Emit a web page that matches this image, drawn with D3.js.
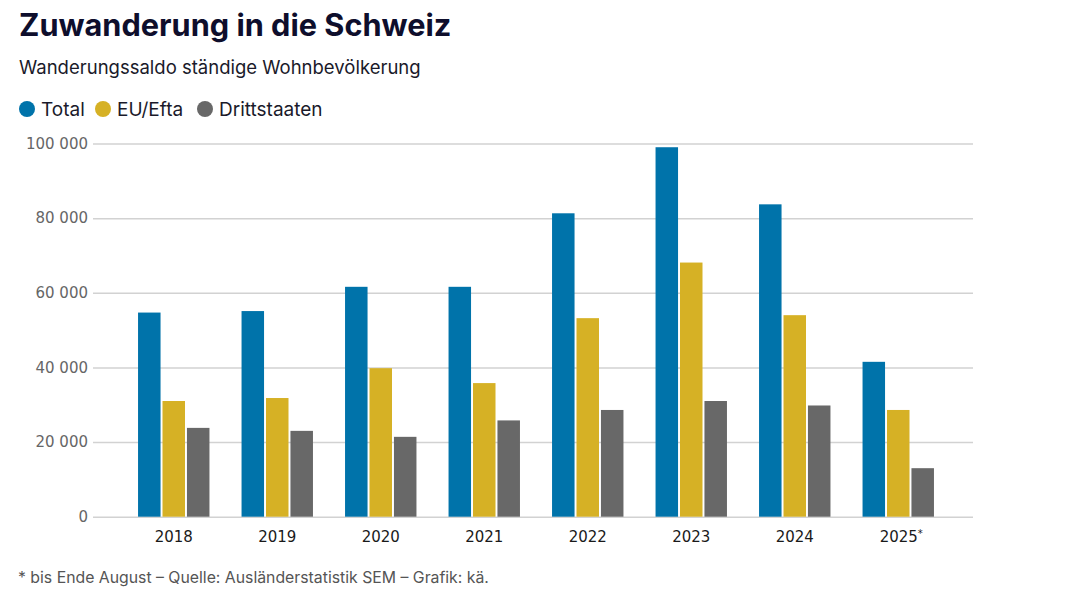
<!DOCTYPE html>
<html lang="de">
<head>
<meta charset="UTF-8">
<title>Zuwanderung in die Schweiz</title>
<script src="https://cdn.jsdelivr.net/npm/d3@7"></script>
<style>
  body { margin: 0; background: #fff; }
  svg { display: block; font-family: Inter, "Noto Sans", sans-serif; }
  .grid line { stroke: #d2d2d2; stroke-width: 1.5px; }
  .grid path { display: none; }
  .yaxis text { fill: #666; font-size: 15px; font-family: "DejaVu Sans", sans-serif; }
  .xaxis text { fill: #1a1a1a; font-size: 15px; font-family: "DejaVu Sans", sans-serif; }
</style>
</head>
<body>
<svg width="1081" height="589"></svg>
<script>
// data
let years = ['2018', '2019', '2020', '2021', '2022', '2023', '2024', '2025'];
let series = ['Total', 'EU/Efta', 'Drittstaaten'];
let total = [54700, 55100, 61600, 61600, 81300, 99000, 83700, 41500];
let euEfta = [31000, 31800, 39800, 35800, 53200, 68100, 54000, 28600];
let dritt = [23800, 23000, 21400, 25800, 28600, 31000, 29800, 13000];
let yTicks = [0, 20000, 40000, 60000, 80000, 100000];
let colors = ['#0073aa', '#d6b125', '#686868'];

let values = [total, euEfta, dritt];
let rows = years.map((y, i) => ({ year: y, vals: series.map((s, j) => ({ key: s, v: values[j][i] })) }));

let svg = d3.select('svg');

// titles
svg.append('text').attr('x', 19).attr('y', 36)
  .style('font-size', '30.7px').style('font-weight', 700).style('fill', '#0e0e2c')
  .text('Zuwanderung in die Schweiz');
svg.append('text').attr('x', 19).attr('y', 74)
  .style('font-size', '18.5px').style('fill', '#1a1a2a')
  .text('Wanderungssaldo ständige Wohnbevölkerung');

// legend
let legX = [27, 103, 205];
let leg = svg.append('g').selectAll('g').data(series).join('g')
  .attr('transform', (d, i) => `translate(${legX[i]},109)`);
leg.append('circle').attr('r', 8).attr('fill', (d, i) => colors[i]);
leg.append('text').attr('x', 14).attr('dy', '0.35em')
  .style('font-size', '19px').style('fill', '#1a1a2a').text(d => d);

// scales
let yScale = d3.scaleLinear().domain([0, 100000]).range([516.7, 143.5]);
let xScale = d3.scaleBand().domain(years).range([122, 950]).paddingInner(0.31).paddingOuter(0.155);
let xInner = d3.scaleBand().domain(series).range([0, xScale.bandwidth()]).paddingInner(0.08);
let color = d3.scaleOrdinal().domain(series).range(colors);

// grid + y labels
svg.append('g').attr('class', 'grid yaxis')
  .attr('transform', 'translate(93,0)')
  .call(d3.axisLeft(yScale).tickValues(yTicks).tickSize(-880).tickFormat(d => d3.format(',')(d).replace(/,/g, ' ')))
  .call(g => g.selectAll('text').attr('x', -5));

// bars
let grp = svg.append('g').selectAll('g').data(rows).join('g')
  .attr('transform', d => `translate(${xScale(d.year)},0)`);
grp.selectAll('rect').data(d => d.vals).join('rect')
  .attr('x', d => xInner(d.key))
  .attr('width', xInner.bandwidth())
  .attr('y', d => yScale(d.v))
  .attr('height', d => yScale(0) - yScale(d.v))
  .attr('fill', d => color(d.key));

// x axis
let xAxis = svg.append('g').attr('class', 'xaxis')
  .attr('transform', `translate(0,${yScale(0)})`)
  .call(d3.axisBottom(xScale).tickSize(0).tickPadding(15));
xAxis.select('.domain').remove();
xAxis.selectAll('.tick text').filter(d => d === '2025')
  .attr('dx', '3')
  .text('2025').append('tspan').attr('dy', '-0.5em').style('font-size', '10px').text('*');

// footnote
svg.append('text').attr('x', 18).attr('y', 583)
  .style('font-size', '15.8px').style('fill', '#555')
  .text('* bis Ende August – Quelle: Ausländerstatistik SEM – Grafik: kä.');
</script>
</body>
</html>
